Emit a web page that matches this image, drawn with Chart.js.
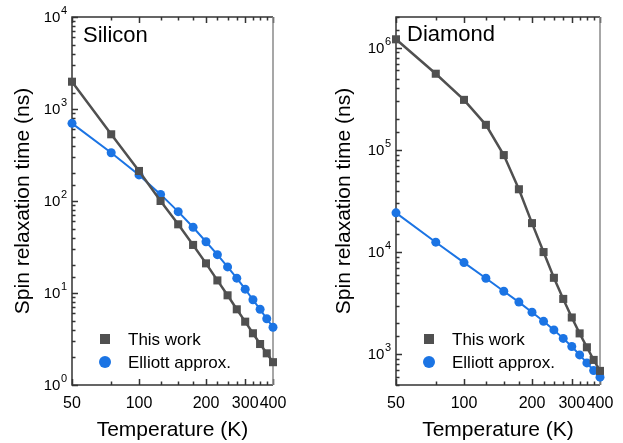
<!DOCTYPE html>
<html>
<head>
<meta charset="utf-8">
<script src="https://cdn.jsdelivr.net/npm/chart.js@4.4.0/dist/chart.umd.min.js"></script>
<style>
  body { margin: 0; background: #fff; }
  #wrap { position: relative; width: 623px; height: 443px; }
  canvas { position: absolute; top: 0; }
</style>
</head>
<body>
<div id="wrap">
  <canvas id="silicon" width="310" height="443" style="left:0"></canvas>
  <canvas id="diamond" width="313" height="443" style="left:310px"></canvas>
</div>
<script>
// temperature (K)
const temps = [50, 75, 100, 125, 150, 175, 200, 225, 250, 275, 300, 325, 350, 375, 400];
const xTickValues = [50, 75, 100, 125, 150, 175, 200, 225, 250, 275, 300, 325, 350, 375, 400];
const xTickLabels = [50, 100, 200, 300, 400];

// spin relaxation time (ns)
const siliconThisWork = [1980, 531, 212, 100, 55.8, 33.3, 21.0, 13.7, 9.44, 6.65, 4.88, 3.65, 2.79, 2.21, 1.77];
const siliconElliott = [698, 335, 192, 118, 76.6, 51.8, 36.1, 26.1, 19.2, 14.5, 11.0, 8.45, 6.65, 5.25, 4.24];
const diamondThisWork = [1210000, 557000, 309000, 176000, 89000, 41200, 19200, 10000, 5600, 3480, 2290, 1600, 1170, 880, 687];
const diamondElliott = [24200, 12500, 7890, 5550, 4140, 3240, 2580, 2100, 1730, 1430, 1190, 985, 822, 693, 597];

const seriesNames = ['This work', 'Elliott approx.'];
const gray = '#505050';
const blue = '#1b74e4';
const fontFam = '"Liberation Sans", Arial, sans-serif';

function isPow10(v) {
    const e = Math.log10(v);
    return Math.abs(e - Math.round(e)) < 1e-9;
}

// frame, inward ticks, 10^n labels, panel title and legend
const panelDecor = {
    id: 'panelDecor',
    beforeDatasetsDraw(chart) {
        const ctx = chart.ctx;
        const a = chart.chartArea;
        const xs = chart.scales.x, ys = chart.scales.y;
        ctx.save();
        ctx.lineWidth = 1.5;
        ctx.strokeStyle = '#333';
        ctx.beginPath();
        xs.ticks.forEach(t => {
            const px = Math.round(xs.getPixelForValue(t.value)) + 0.5;
            const len = xTickLabels.includes(t.value) ? 6 : 3.5;
            ctx.moveTo(px, a.bottom); ctx.lineTo(px, a.bottom - len);
            ctx.moveTo(px, a.top); ctx.lineTo(px, a.top + len);
        });
        ys.ticks.forEach(t => {
            const py = Math.round(ys.getPixelForValue(t.value)) + 0.5;
            const len = isPow10(t.value) ? 6 : 3.5;
            ctx.moveTo(a.left, py); ctx.lineTo(a.left + len, py);
        });
        ctx.stroke();
        ctx.beginPath();
        ctx.moveTo(a.right, a.top); ctx.lineTo(a.left, a.top);
        ctx.lineTo(a.left, a.bottom); ctx.lineTo(a.right, a.bottom);
        ctx.stroke();
        ctx.strokeStyle = '#8a8a8a';
        ctx.beginPath();
        ctx.moveTo(a.right, a.top); ctx.lineTo(a.right, a.bottom);
        ctx.stroke();

        // y labels as 10 with raised exponent
        ctx.fillStyle = '#000';
        ctx.textBaseline = 'middle';
        ys.ticks.forEach(t => {
            if (!isPow10(t.value)) return;
            const py = ys.getPixelForValue(t.value);
            const e = String(Math.round(Math.log10(t.value)));
            ctx.font = '11px ' + fontFam;
            const ew = ctx.measureText(e).width;
            ctx.textAlign = 'left';
            ctx.fillText(e, a.left - 5 - ew, py - 6);
            ctx.font = '15px ' + fontFam;
            ctx.textAlign = 'right';
            ctx.fillText('10', a.left - 5 - ew - 0.5, py + 1);
        });
        ctx.restore();
    },
    afterDatasetsDraw(chart, args, opts) {
        const ctx = chart.ctx;
        const a = chart.chartArea;
        ctx.save();
        ctx.fillStyle = '#000';
        ctx.font = '22px ' + fontFam;
        ctx.textBaseline = 'alphabetic';
        ctx.fillText(opts.text, a.left + 11, opts.titleY);
        ctx.font = '17px ' + fontFam;
        ctx.textBaseline = 'middle';
        chart.data.datasets.forEach((ds, i) => {
            const y = a.bottom - 46 + i * 23;
            const x = a.left + 33;
            ctx.fillStyle = ds.backgroundColor;
            if (ds.pointStyle === 'rect') {
                ctx.fillRect(x - 5, y - 5, 10, 10);
            } else {
                ctx.beginPath();
                ctx.arc(x, y, 6, 0, Math.PI * 2);
                ctx.fill();
            }
            ctx.fillStyle = '#000';
            ctx.fillText(ds.label, a.left + 56, y + 1);
        });
        ctx.restore();
    }
};

function makePanel(id, name, thisWork, elliott, yMin, yMax, yWidth, yTitlePad, rightPad, titleY) {
    new Chart(document.getElementById(id), {
        type: 'line',
        data: {
            labels: temps,
            datasets: [{
                label: seriesNames[0],
                data: temps.map((t, i) => ({x: t, y: thisWork[i]})),
                borderColor: gray,
                backgroundColor: gray,
                borderWidth: 2.5,
                pointStyle: 'rect',
                pointRadius: 5.7,
                pointBorderWidth: 0,
                clip: false
            }, {
                label: seriesNames[1],
                data: temps.map((t, i) => ({x: t, y: elliott[i]})),
                borderColor: blue,
                backgroundColor: blue,
                borderWidth: 2,
                pointStyle: 'circle',
                pointRadius: 4.5,
                pointBorderWidth: 0,
                clip: false
            }]
        },
        options: {
            responsive: false,
            animation: false,
            layout: { padding: { top: 17, right: rightPad, left: 0, bottom: 0 } },
            plugins: {
                legend: { display: false },
                tooltip: { enabled: false },
                panelDecor: { text: name, titleY: titleY }
            },
            scales: {
                x: {
                    type: 'logarithmic',
                    min: 50,
                    max: 400,
                    afterBuildTicks: s => { s.ticks = xTickValues.map(v => ({value: v})); },
                    afterFit: s => { s.height = 58; },
                    grid: { display: false, drawTicks: false },
                    border: { display: false },
                    ticks: {
                        autoSkip: false,
                        maxRotation: 0,
                        padding: 9,
                        color: '#000',
                        font: { family: fontFam, size: 16 },
                        callback: v => xTickLabels.includes(v) ? String(v) : ''
                    },
                    title: {
                        display: true,
                        text: 'Temperature (K)',
                        color: '#000',
                        font: { family: fontFam, size: 21 },
                        padding: { top: 0, bottom: 0 }
                    }
                },
                y: {
                    type: 'logarithmic',
                    min: yMin,
                    max: yMax,
                    afterFit: s => { s.width = yWidth; },
                    grid: { display: false, drawTicks: false },
                    border: { display: false },
                    ticks: {
                        autoSkip: false,
                        padding: 5,
                        callback: () => ''
                    },
                    title: {
                        display: true,
                        text: 'Spin relaxation time (ns)',
                        color: '#000',
                        font: { family: fontFam, size: 21 },
                        padding: { top: yTitlePad, bottom: 0 }
                    }
                }
            }
        },
        plugins: [panelDecor]
    });
}

makePanel('silicon', 'Silicon', siliconThisWork, siliconElliott, 1, 10000, 72, 10.4, 37, 42);
makePanel('diamond', 'Diamond', diamondThisWork, diamondElliott, 500, 2000000, 86, 21.4, 23, 41);
</script>
</body>
</html>
